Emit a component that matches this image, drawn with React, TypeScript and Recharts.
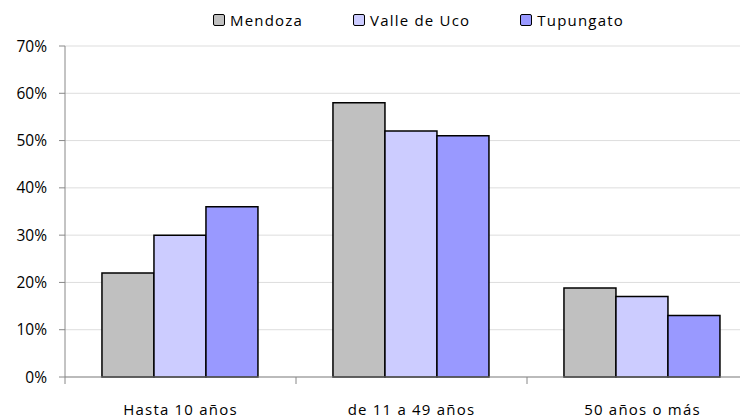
import React from "react";
import { BarChart, Bar, XAxis, YAxis, CartesianGrid, Legend } from "recharts";

const categories = ["Hasta 10 años", "de 11 a 49 años", "50 años o más"];
const mendoza = [22, 58, 18.8];
const valleDeUco = [30, 52, 17];
const tupungato = [36, 51, 13];
const yTicks = [0, 10, 20, 30, 40, 50, 60, 70];

const series = [
  { key: "mendoza", name: "Mendoza", color: "#C0C0C0" },
  { key: "valle", name: "Valle de Uco", color: "#CCCCFF" },
  { key: "tupungato", name: "Tupungato", color: "#9999FF" },
];

const data = categories.map((c, i) => ({
  cat: c,
  mendoza: mendoza[i],
  valle: valleDeUco[i],
  tupungato: tupungato[i],
}));

const FONT = "'Open Sans', 'DejaVu Sans', sans-serif";

const LegendContent = () => (
  <div style={{ display: "flex", alignItems: "center", gap: 50, fontFamily: FONT, fontSize: 15, letterSpacing: 1.2, color: "#000" }}>
    {series.map((s) => (
      <div key={s.key} style={{ display: "flex", alignItems: "center" }}>
        <span style={{ display: "inline-block", width: 10, height: 10, background: s.color, border: "1.5px solid #000", borderRadius: 2, marginRight: 5 }} />
        <span>{s.name}</span>
      </div>
    ))}
  </div>
);

const CatTick = (props: any) => {
  const { x, y, payload } = props;
  const half = payload && typeof payload.offset === "number" ? payload.offset : 0;
  return (
    <g>
      {half > 0 && (
        <line x1={x - half} x2={x - half} y1={y} y2={y + 7} stroke="#888888" strokeWidth={1} />
      )}
      <text
        x={x}
        y={y + 27}
        dy="0.71em"
        textAnchor="middle"
        fontFamily={FONT}
        fontSize={15}
        letterSpacing={1.2}
        fill="#000"
      >
        {payload.value}
      </text>
    </g>
  );
};

export default function App() {
  return (
    <div style={{ position: "absolute", left: 0, top: 0, width: 740, height: 419, overflow: "hidden", background: "#fff" }}>
      <BarChart
        width={770}
        height={419}
        data={data}
        margin={{ top: 16, right: 12, bottom: 12, left: 0 }}
        barCategoryGap="16%"
        barGap={0}
      >
        <CartesianGrid vertical={false} stroke="#DDDDDD" strokeWidth={1} />
        <XAxis
          dataKey="cat"
          tickLine={false}
          axisLine={{ stroke: "#888888" }}
          tickMargin={0}
          tickSize={0}
          height={30}
          interval={0}
          tick={<CatTick />}
        />
        <YAxis
          width={65}
          domain={[0, 70]}
          ticks={yTicks}
          tickFormatter={(v: number) => `${v}%`}
          axisLine={{ stroke: "#888888" }}
          tickLine={{ stroke: "#888888" }}
          tickSize={6}
          tickMargin={12}
          tick={{ fontFamily: FONT, fontSize: 15.5, fill: "#000" }}
          interval={0}
        />
        <Legend
          verticalAlign="top"
          align="left"
          content={<LegendContent />}
          wrapperStyle={{ left: 213, top: 10, height: 30, width: "auto" }}
        />
        {series.map((s) => (
          <Bar
            key={s.key}
            dataKey={s.key}
            name={s.name}
            fill={s.color}
            stroke="#000"
            strokeWidth={1.5}
            isAnimationActive={false}
          />
        ))}
      </BarChart>
    </div>
  );
}
